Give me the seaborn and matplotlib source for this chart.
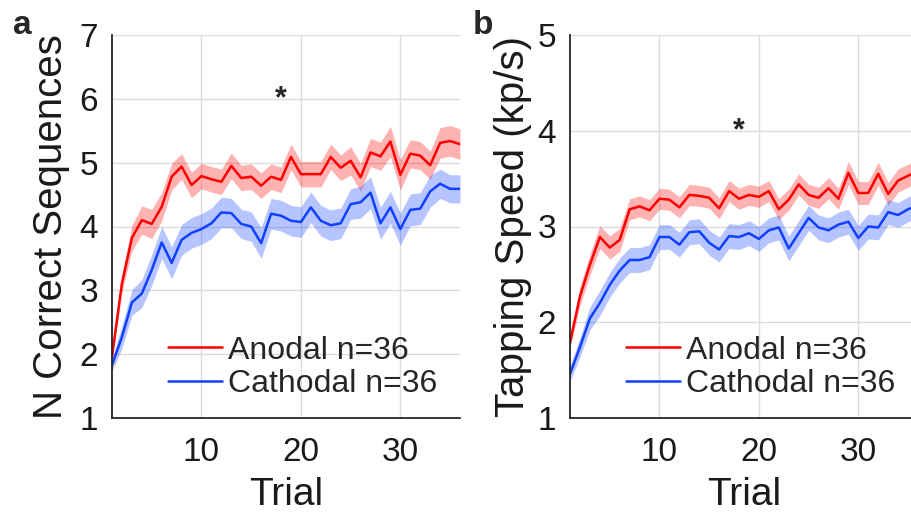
import pandas as pd
import seaborn as sns
import matplotlib.pyplot as plt

sns.set_style('whitegrid')
plt.rcParams['font.family'] = ['Liberation Sans', 'DejaVu Sans']

# data (mean and sem per trial)
trials = list(range(1, 37))

anodal_seq = [1.96, 3.11, 3.82, 4.10, 4.04, 4.31, 4.78, 4.94, 4.65, 4.79, 4.74, 4.70,
              4.95, 4.76, 4.78, 4.64, 4.78, 4.73, 5.09, 4.82, 4.82, 4.82, 5.09, 4.92,
              5.03, 4.77, 5.16, 5.10, 5.33, 4.81, 5.14, 5.11, 4.96, 5.31, 5.34, 5.29]
anodal_seq_sem = [0.05, 0.14, 0.20, 0.22, 0.23, 0.22, 0.21, 0.20, 0.20, 0.20, 0.20, 0.20,
                  0.20, 0.20, 0.20, 0.20, 0.20, 0.20, 0.20, 0.20, 0.20, 0.20, 0.20, 0.20,
                  0.22, 0.22, 0.22, 0.22, 0.24, 0.24, 0.22, 0.22, 0.22, 0.24, 0.24, 0.24]
cathodal_seq = [1.83, 2.27, 2.81, 2.95, 3.32, 3.75, 3.43, 3.79, 3.90, 3.96, 4.05, 4.22,
                4.21, 4.04, 4.00, 3.74, 4.20, 4.17, 4.09, 4.07, 4.30, 4.09, 4.02, 4.05,
                4.35, 4.38, 4.53, 4.05, 4.30, 3.96, 4.26, 4.28, 4.55, 4.67, 4.59, 4.59]
cathodal_seq_sem = [0.10, 0.18, 0.20, 0.22, 0.24, 0.25, 0.25, 0.24, 0.24, 0.24, 0.24, 0.24,
                    0.23, 0.23, 0.23, 0.24, 0.24, 0.24, 0.24, 0.24, 0.24, 0.24, 0.24, 0.24,
                    0.24, 0.25, 0.25, 0.25, 0.25, 0.25, 0.25, 0.25, 0.25, 0.23, 0.22, 0.22]

anodal_speed = [1.79, 2.27, 2.60, 2.89, 2.78, 2.86, 3.18, 3.21, 3.17, 3.29, 3.28, 3.20,
                3.33, 3.32, 3.30, 3.19, 3.37, 3.29, 3.33, 3.31, 3.37, 3.18, 3.28, 3.44,
                3.33, 3.30, 3.40, 3.29, 3.56, 3.35, 3.35, 3.55, 3.34, 3.48, 3.53, 3.58]
anodal_speed_sem = [0.06, 0.10, 0.11, 0.12, 0.12, 0.12, 0.11, 0.11, 0.11, 0.11, 0.11, 0.11,
                    0.11, 0.11, 0.11, 0.11, 0.11, 0.11, 0.11, 0.11, 0.11, 0.11, 0.11, 0.11,
                    0.11, 0.11, 0.11, 0.11, 0.12, 0.12, 0.12, 0.12, 0.12, 0.12, 0.12, 0.12]
cathodal_speed = [1.46, 1.74, 2.04, 2.20, 2.39, 2.54, 2.65, 2.65, 2.68, 2.89, 2.89, 2.81,
                  2.94, 2.95, 2.83, 2.76, 2.90, 2.89, 2.93, 2.87, 2.96, 2.99, 2.77, 2.93,
                  3.09, 2.99, 2.96, 3.02, 3.05, 2.88, 3.00, 2.99, 3.15, 3.12, 3.18, 3.22]
cathodal_speed_sem = [0.08, 0.10, 0.12, 0.13, 0.13, 0.13, 0.13, 0.13, 0.13, 0.13, 0.13, 0.13,
                      0.13, 0.13, 0.13, 0.13, 0.13, 0.13, 0.13, 0.13, 0.13, 0.13, 0.13, 0.13,
                      0.13, 0.13, 0.13, 0.13, 0.13, 0.13, 0.13, 0.13, 0.13, 0.13, 0.13, 0.13]

labels = ['Anodal n=36', 'Cathodal n=36']
colors = {'Anodal n=36': '#ff0000', 'Cathodal n=36': '#1040ff'}

panels = [
    dict(letter='a', ylabel='N Correct Sequences', ylim=(1, 7), star_y=6.0,
         means=[anodal_seq, cathodal_seq], sems=[anodal_seq_sem, cathodal_seq_sem],
         pos=[112/912, 96/514, 348/912, 383/514], ylab_x=-0.12, letter_x=-0.285),
    dict(letter='b', ylabel='Tapping Speed (kp/s)', ylim=(1, 5), star_y=3.99,
         means=[anodal_speed, cathodal_speed], sems=[anodal_speed_sem, cathodal_speed_sem],
         pos=[570/912, 96/514, 348/912, 383/514], ylab_x=-0.11, letter_x=-0.28),
]

fig = plt.figure(figsize=(9.12, 5.14), dpi=100)

for p in panels:
    ax = fig.add_axes(p['pos'])
    rows = []
    for lab, m, s in zip(labels, p['means'], p['sems']):
        rows.append(pd.DataFrame({'Trial': trials, 'value': m, 'sem': s, 'group': lab}))
    df = pd.concat(rows)
    for lab in labels:
        d = df[df['group'] == lab]
        ax.fill_between(d['Trial'], d['value'] - d['sem'], d['value'] + d['sem'],
                        color=colors[lab], alpha=0.3, lw=0)
    sns.lineplot(data=df, x='Trial', y='value', hue='group', palette=colors,
                 lw=1.8, ax=ax, legend=True)

    ax.set_xlim(1, 36)
    ax.set_ylim(*p['ylim'])
    ax.set_xticks([10, 20, 30])
    ax.set_yticks(range(p['ylim'][0], p['ylim'][1] + 1))
    ax.grid(True, color='#dcdcdc', lw=1)
    for side in ['top', 'right']:
        ax.spines[side].set_visible(False)
    for side in ['left', 'bottom']:
        ax.spines[side].set_color('#262626')
        ax.spines[side].set_linewidth(1.3)
    ax.tick_params(direction='in', length=5, width=1, color='#262626',
                   labelsize=24, pad=10, labelcolor='#1a1a1a')
    ax.tick_params(axis='x', pad=14)

    ax.set_xlabel('Trial', fontsize=28, color='#1a1a1a')
    ax.set_ylabel(p['ylabel'], fontsize=29, color='#1a1a1a')
    ax.xaxis.set_label_coords(0.5, -0.155)
    ax.yaxis.set_label_coords(p['ylab_x'], 0.5)

    ax.text(18, p['star_y'], '*', fontsize=22, fontweight='bold', ha='center', va='center')
    ax.text(p['letter_x'], 1.025, p['letter'], transform=ax.transAxes, fontsize=24,
            fontweight='bold', ha='left', va='center')

    ax.legend(frameon=False, loc='lower left', bbox_to_anchor=(0.16, 0.05),
              fontsize=23, handlelength=1.7, handletextpad=0.2, labelspacing=0.1,
              borderpad=0, borderaxespad=0)

plt.savefig('out.png', dpi=100)
